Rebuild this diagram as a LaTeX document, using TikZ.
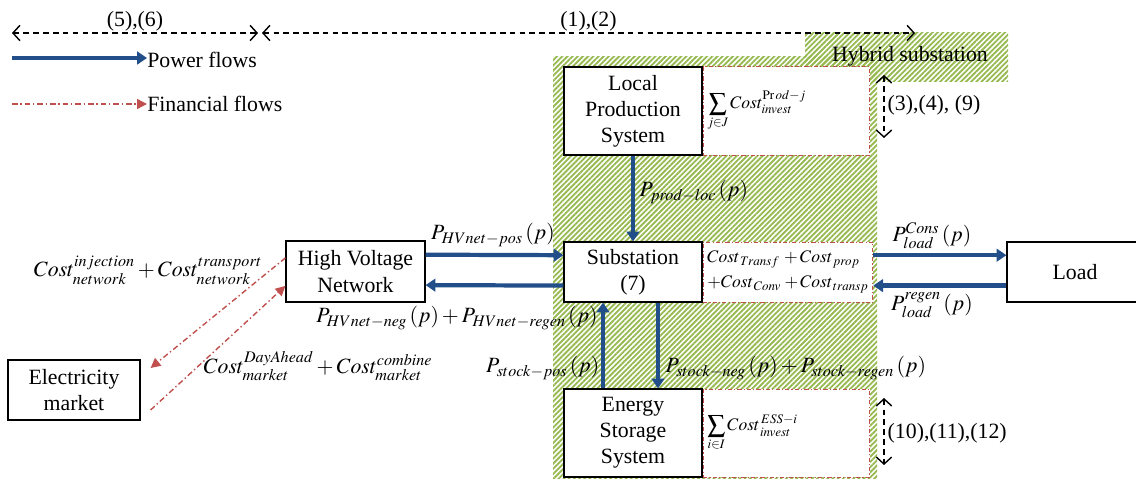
\documentclass[tikz,border=0pt]{standalone}
\usepackage{mathptmx}
\usepackage{fontspec}
\setmainfont{Liberation Serif}
\usepackage{tikz}
\usetikzlibrary{arrows.meta,patterns.meta,positioning,calc}
\definecolor{powerblue}{RGB}{34,78,138}
\definecolor{finred}{RGB}{192,80,77}
\definecolor{hatchgreen}{RGB}{150,185,80}
\newcommand{\blockfont}{\fontsize{15.5}{18.6}\selectfont}
\newcommand{\costfont}{\fontsize{12.5}{15}\selectfont}
\tikzstyle{block}=[draw,thick,fill=white,align=center,inner sep=0pt,minimum width=3.45cm,font=\blockfont]
\tikzstyle{costbox}=[draw=finred,line width=0.7pt,dash pattern=on 3pt off 1.5pt on 0.8pt off 1.5pt,fill=white,align=left,text width=3.95cm,inner xsep=3pt,inner ysep=0pt,font=\costfont]
\tikzstyle{power}=[draw=powerblue,line width=3pt,-{Triangle[length=7pt,width=9pt]}]
\tikzstyle{money}=[draw=finred,line width=1pt,dash pattern=on 4pt off 2pt on 1pt off 2pt,-{Triangle[length=7pt,width=7pt]}]
\tikzstyle{eqspan}=[line width=1pt,dash pattern=on 4pt off 3pt,{Straight Barb[length=5pt,width=11pt]}-{Straight Barb[length=5pt,width=11pt]}]
\tikzstyle{hatch}=[pattern={Lines[angle=45,distance=2.6pt,line width=1.3pt]},pattern color=hatchgreen]
\tikzstyle{lbl}=[font=\blockfont,inner sep=1pt]

\begin{document}
\begin{tikzpicture}[x=0.025cm,y=-0.025cm]
\useasboundingbox (0,0) rectangle (1136,479);

% hatched area of the hybrid substation
\fill[hatch] (553,57) rectangle (877,479);
\fill[hatch] (805,33) rectangle (1008,82);
\node[lbl] (hybrid) at (910,56) {Hybrid substation};

% blocks
\draw (633,111) node [block, minimum height=2.2cm] (lps) {Local\\Production\\System};
\draw (633,272) node [block, minimum height=1.5cm] (sub) {Substation\\(7)};
\draw (633,433) node [block, minimum height=2.2cm] (ess) {Energy\\Storage\\System};
\draw (355.5,271.5) node [block, minimum width=3.475cm, minimum height=1.525cm] (hvn) {High Voltage\\Network};
\draw (1075,272) node [block, minimum width=3.4cm, minimum height=1.5cm] (load) {Load};
\draw (74,390) node [block, minimum width=3.3cm, minimum height=1.5cm] (market) {Electricity\\market};

% cost boxes
\node [costbox, minimum height=2.2cm, right=0pt of lps] (lpscost) {$\displaystyle\sum_{j\in J} Cost^{\mathrm{Pr}\,od-j}_{invest}$};
\node [costbox, minimum height=1.5cm, right=0pt of sub, text width=4.03cm] (subcost) {$Cost_{\,Transf}\,+Cost_{\,prop}$\\[3pt]$+Cost_{\,Conv}\,+Cost_{\,transp}$};
\node [costbox, minimum height=2.2cm, right=0pt of ess] (esscost) {$\displaystyle\sum_{i\in I} Cost^{\,ESS-i}_{\,invest}$};

% power flows
\draw[power] (lps.south) -- (sub.north);
\draw[power] ([yshift=0.42cm]hvn.east) -- ([yshift=0.42cm]sub.west);
\draw[power] ([yshift=-0.34cm]sub.west) -- ([yshift=-0.34cm]hvn.east);
\draw[power] ([yshift=0.42cm]subcost.east) -- ([yshift=0.42cm]load.west);
\draw[power] ([yshift=-0.34cm]load.west) -- ([yshift=-0.34cm]subcost.east);
\draw[power] ([xshift=0.625cm]sub.south) -- ([xshift=0.625cm]ess.north);
\draw[power] ([xshift=-0.75cm]ess.north) -- ([xshift=-0.75cm]sub.south);

% financial flows
\draw[money] ([yshift=0.34cm]hvn.west) -- ([xshift=0.25cm,yshift=0.55cm]market.east);
\draw[money] ([xshift=0.25cm,yshift=-0.5cm]market.east) -- ([yshift=-0.36cm]hvn.west);

% flow labels
\node[lbl, anchor=west] (pprod) at (638,192) {$P_{prod-loc}\,(p)$};
\node[lbl] (phvpos) at (493,235) {$P_{HVnet-pos}\,(p)$};
\node[lbl] (phvneg) at (457,318) {$P_{HVnet-neg}\,(p)+P_{HVnet-regen}\,(p)$};
\node[lbl] (costnet) at (148,270) {$Cost^{injection}_{network}+Cost^{transport}_{network}$};
\node[lbl] (costmkt) at (318,366) {$Cost^{DayAhead}_{market}+Cost^{combine}_{market}$};
\node[lbl, anchor=east] (pstpos) at (601,368) {$P_{stock-pos}\,(p)$};
\node[lbl, anchor=west] (pstneg) at (664,368) {$P_{stock-neg}\,(p)+P_{stock-regen}\,(p)$};
\node[lbl] (pcons) at (932,236) {$P^{Cons}_{load}\,(p)$};
\node[lbl] (pregen) at (932,305) {$P^{regen}_{load}\,(p)$};

% equation ranges
\coordinate (r1) at (12,33);
\coordinate (r2) at (258,33);
\coordinate (r3) at (262,33);
\coordinate (r4) at (915,33);
\draw[eqspan] (r1) -- (r2) node[lbl, midway, above] {(5),(6)};
\draw[eqspan] (r3) -- (r4) node[lbl, midway, above] {(1),(2)};
\coordinate (r5) at (884,75);
\coordinate (r6) at (884,138);
\draw[eqspan] (r5) -- (r6);
\node[lbl, anchor=west] (eq349) at (886,105) {(3),(4), (9)};
\coordinate (r7) at (884,398);
\coordinate (r8) at (884,465);
\draw[eqspan] (r7) -- (r8);
\node[lbl, anchor=west] (eq1012) at (886,433) {(10),(11),(12)};

% legend
\node[lbl, anchor=west, inner sep=0pt] (powerkey) at (147,60) {Power flows};
\coordinate (powerstart) at (12,58);
\draw[power] (powerstart) -- (powerstart -| powerkey.west);
\node[lbl, anchor=west, inner sep=0pt] (finkey) at (147,104) {Financial flows};
\coordinate (finstart) at (12,104);
\draw[money] (finstart) -- (finstart -| finkey.west);
\end{tikzpicture}
\end{document}
